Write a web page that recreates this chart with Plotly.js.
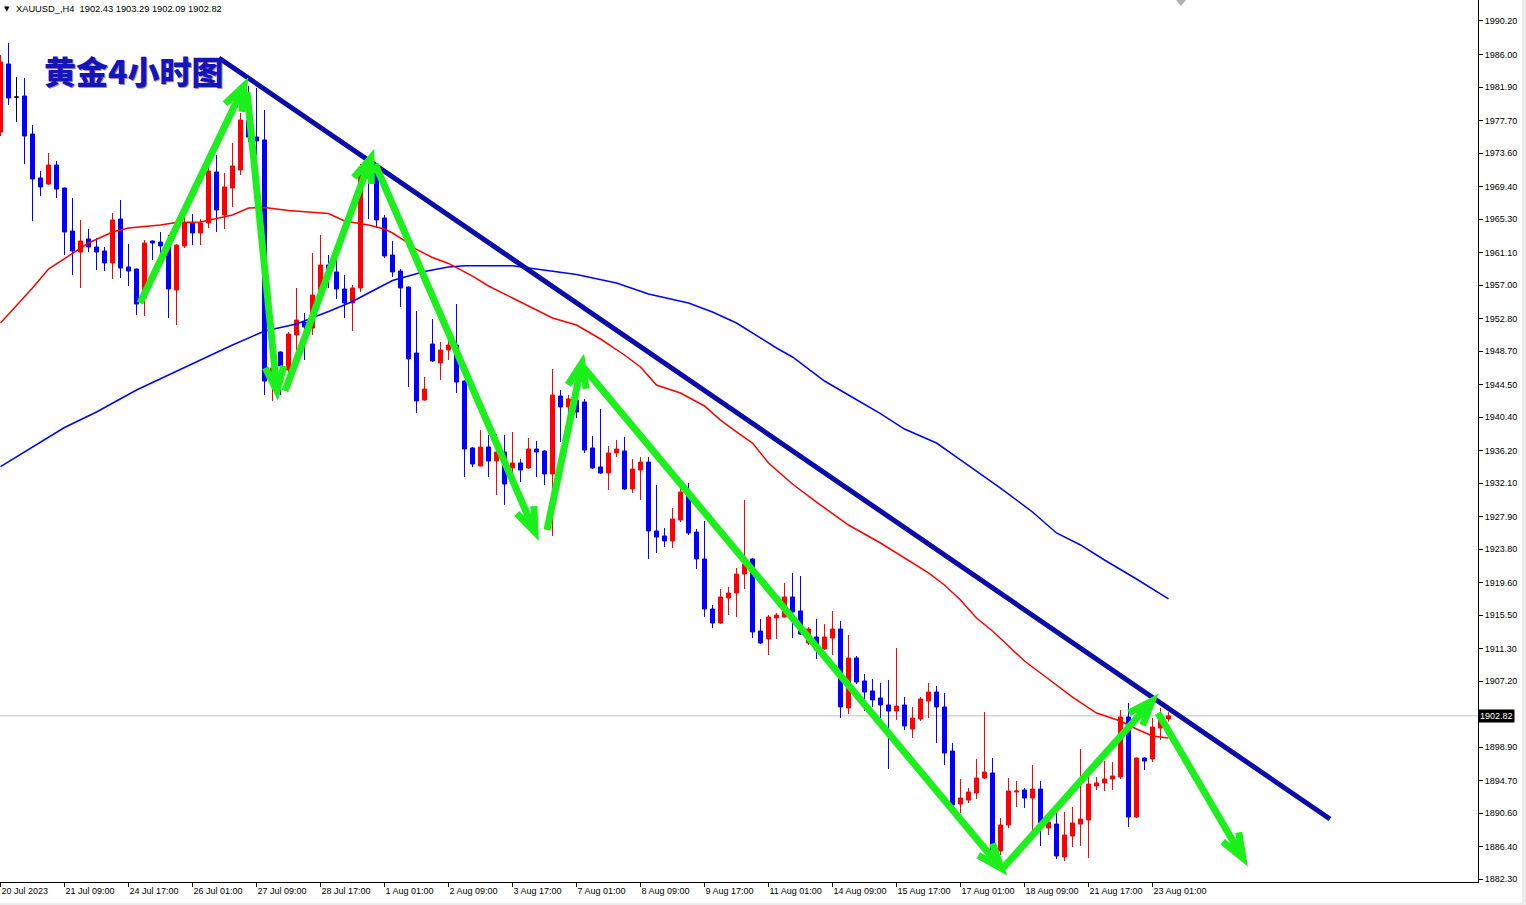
<!DOCTYPE html>
<html>
<head>
<meta charset="utf-8">
<script src="https://cdn.plot.ly/plotly-3.0.1.min.js"></script>
<style>
html,body{margin:0;padding:0;background:#fff;overflow:hidden;}
#chart{width:1526px;height:905px;}
</style>
</head>
<body>
<div id="chart"></div>
<script>
// ---- XAUUSD H4 candles (bar index 0..146) ----
const openP = [1976.24,1984.79,1980.64,1980.77,1975.99,1970.46,1969.70,1972.09,1969.20,1963.79,
1961.15,1962.79,1961.78,1961.28,1959.77,1965.30,1959.27,1959.01,1955.37,1962.54,
1962.41,1961.91,1956.37,1961.91,1964.80,1963.54,1964.80,1971.21,1965.80,1969.20,
1971.46,1977.70,1975.61,1975.24,1945.06,1948.58,1946.31,1950.71,1952.35,1951.59,
1956.00,1959.52,1958.64,1956.50,1954.74,1956.63,1971.84,1971.09,1965.43,1960.77,
1958.76,1956.75,1948.45,1942.54,1949.58,1947.19,1948.83,1949.46,1944.93,1936.51,
1934.24,1936.63,1934.87,1936.00,1933.99,1934.62,1933.99,1936.38,1936.13,1933.24,
1943.04,1941.66,1942.54,1942.29,1936.51,1934.12,1933.36,1935.88,1936.13,1931.35,
1933.74,1934.74,1926.07,1925.44,1924.81,1927.45,1930.72,1925.94,1922.55,1916.26,
1914.50,1917.64,1918.27,1920.66,1922.55,1913.49,1912.49,1915.13,1915.25,1917.77,
1916.01,1911.98,1912.74,1911.23,1912.61,1913.74,1903.81,1910.10,1907.21,1905.95,
1905.07,1904.19,1903.43,1904.19,1901.17,1902.43,1904.69,1905.82,1903.94,1898.40,
1891.74,1892.24,1893.12,1895.01,1895.64,1885.83,1889.10,1893.25,1893.50,1892.49,
1893.62,1888.72,1889.22,1885.07,1887.71,1889.22,1889.73,1894.00,1894.38,1894.88,
1895.13,1902.68,1890.10,1897.52,1897.40,1901.29,1902.43];
const highP = [1985.92,1987.43,1983.16,1983.03,1977.12,1971.34,1973.60,1972.60,1969.25,1967.94,
1965.18,1964.04,1962.91,1961.78,1966.06,1967.69,1962.16,1959.05,1962.66,1962.60,
1963.67,1963.29,1962.10,1965.55,1965.93,1965.30,1972.47,1973.35,1971.09,1974.86,
1978.63,1982.03,1981.78,1979.01,1947.57,1948.65,1951.09,1956.63,1953.48,1961.03,
1963.29,1960.77,1960.40,1958.26,1957.00,1972.22,1972.47,1971.84,1965.80,1962.54,
1959.01,1956.80,1953.73,1945.43,1952.73,1949.83,1950.21,1954.61,1945.00,1936.63,
1938.77,1938.14,1938.27,1938.14,1938.52,1935.12,1937.76,1937.39,1936.20,1946.44,
1943.80,1943.17,1943.55,1942.67,1938.01,1941.41,1936.76,1937.51,1937.89,1935.12,
1935.37,1935.37,1931.85,1926.44,1928.96,1931.60,1932.10,1926.32,1927.33,1916.76,
1918.77,1919.03,1921.42,1929.97,1922.67,1915.00,1915.50,1915.76,1919.53,1920.79,
1920.41,1913.99,1915.00,1914.37,1916.01,1914.75,1912.99,1910.35,1908.09,1907.46,
1906.95,1907.33,1911.35,1905.19,1903.94,1905.19,1906.95,1906.58,1905.70,1899.41,
1894.88,1893.75,1897.40,1903.31,1897.52,1889.98,1895.01,1894.63,1893.75,1896.64,
1894.63,1890.10,1890.61,1890.73,1891.36,1898.65,1895.13,1895.13,1897.14,1897.02,
1903.56,1904.44,1897.60,1897.60,1902.55,1903.81,1903.29];
const lowP = [1975.74,1979.64,1977.50,1972.22,1965.05,1968.19,1969.60,1967.94,1960.77,1958.26,
1956.63,1961.15,1958.89,1958.76,1957.76,1957.88,1956.88,1953.23,1953.10,1960.15,
1960.15,1952.85,1951.97,1961.65,1962.03,1962.03,1964.17,1963.67,1964.04,1966.81,
1970.83,1974.98,1973.35,1943.17,1942.42,1943.17,1945.68,1948.83,1947.57,1950.71,
1955.12,1956.63,1955.24,1952.85,1951.22,1956.12,1965.30,1964.17,1960.40,1958.01,
1954.24,1944.18,1940.91,1942.45,1947.32,1945.06,1947.57,1943.42,1932.86,1934.12,
1934.20,1932.86,1930.59,1929.34,1933.36,1932.23,1933.90,1932.86,1931.85,1925.44,
1937.26,1940.40,1940.28,1935.88,1933.86,1933.24,1931.22,1935.37,1931.22,1930.85,
1929.97,1922.55,1923.30,1924.06,1923.93,1927.20,1925.56,1921.29,1915.25,1913.87,
1914.40,1915.50,1915.25,1918.77,1912.61,1911.86,1910.47,1912.49,1915.20,1912.61,
1912.99,1911.73,1909.97,1911.10,1910.47,1902.55,1903.05,1906.83,1903.43,1903.94,
1902.55,1896.14,1902.30,1901.04,1900.04,1902.18,1902.55,1899.41,1896.64,1890.98,
1890.61,1891.86,1892.37,1894.90,1885.58,1885.32,1888.72,1891.36,1891.24,1888.09,
1886.46,1887.84,1884.82,1884.57,1886.33,1886.46,1884.95,1893.50,1893.37,1893.50,
1894.88,1888.85,1889.98,1896.01,1897.02,1899.79,1902.09];
const closeP = [1985.04,1980.52,1980.64,1975.74,1970.33,1969.33,1972.09,1969.07,1963.67,1961.28,
1962.54,1961.78,1961.15,1959.77,1965.18,1959.14,1958.76,1954.61,1962.28,1962.28,
1961.91,1956.50,1962.03,1964.80,1963.54,1964.80,1971.34,1966.43,1969.33,1971.97,
1977.75,1975.61,1975.11,1944.93,1946.57,1946.82,1950.84,1952.60,1951.72,1955.74,
1959.52,1958.64,1956.50,1954.74,1956.63,1971.84,1970.46,1965.18,1960.65,1958.64,
1956.63,1947.70,1942.42,1943.92,1947.45,1948.83,1949.46,1944.80,1936.38,1934.49,
1936.63,1934.87,1936.00,1931.98,1934.62,1933.74,1936.38,1936.00,1933.24,1943.17,
1941.66,1942.67,1941.03,1936.25,1933.99,1933.36,1935.88,1936.38,1931.35,1933.86,
1934.74,1926.07,1925.31,1924.81,1927.58,1930.97,1925.82,1922.55,1916.26,1914.50,
1917.77,1918.27,1920.66,1921.92,1913.37,1911.98,1915.25,1915.50,1917.77,1915.88,
1913.11,1913.74,1911.10,1912.74,1913.74,1903.94,1910.10,1907.08,1905.82,1904.82,
1904.19,1903.43,1904.06,1901.55,1902.55,1904.94,1905.82,1903.94,1898.15,1891.61,
1892.49,1893.25,1895.01,1895.76,1885.95,1889.10,1893.37,1893.37,1892.49,1893.62,
1889.35,1889.47,1885.20,1887.84,1889.35,1889.85,1894.25,1894.38,1894.88,1895.26,
1902.68,1890.10,1897.52,1897.14,1901.42,1902.30,1902.82];

// ---- moving averages (bar index, price) ----
const maRedIdx = [0,4,6,9,11,14,16,18,20,22,25,27,29,31,33,36,38,41,43,46,48,49,51,52,54,56,59,61,64,69,72,75,78,80,82,85,88,90,92,94,96,99,102,106,110,113,116,118,120,122,124,126,128,131,134,137,140,142,144,146];
const maRed = [1952.22,1956.63,1959.01,1961.03,1962.28,1963.67,1964.17,1964.36,1964.55,1964.86,1964.92,1965.36,1965.80,1966.68,1966.75,1966.37,1966.22,1965.99,1965.05,1964.55,1964.04,1963.54,1962.28,1961.47,1960.46,1959.71,1958.13,1956.88,1955.37,1952.85,1951.97,1950.21,1948.20,1946.69,1944.43,1943.42,1941.79,1940.02,1938.52,1937.13,1934.62,1931.98,1929.71,1926.82,1924.56,1922.67,1920.79,1919.28,1917.39,1915.13,1913.49,1911.60,1909.72,1907.46,1905.19,1903.18,1902.18,1901.17,1900.29,1900.04];
const maBlueIdx = [0,4,8,12,17,21,25,29,33,37,41,44,46,49,51,53,56,58,64,68,72,77,81,86,89,92,94,97,99,103,106,110,113,117,120,123,125,129,132,135,138,142,146];
const maBlue = [1934.15,1936.63,1939.08,1941.03,1943.80,1945.68,1947.57,1949.46,1951.22,1952.10,1953.67,1954.93,1956.00,1957.57,1958.13,1958.70,1959.27,1959.43,1959.43,1958.89,1958.32,1957.25,1955.87,1954.74,1953.61,1952.22,1950.97,1949.08,1947.95,1944.93,1943.17,1940.84,1938.89,1937.13,1935.00,1932.86,1931.47,1928.46,1925.82,1924.31,1922.42,1920.03,1917.52];

// ---- axis labels ----
const xTickIdx = [0,8,16,24,32,40,48,56,64,72,80,88,96,104,112,120,128,136,144];
const xTickText = ["20 Jul 2023","21 Jul 09:00","24 Jul 17:00","26 Jul 01:00","27 Jul 09:00","28 Jul 17:00","1 Aug 01:00","2 Aug 09:00","3 Aug 17:00","7 Aug 01:00","8 Aug 09:00","9 Aug 17:00","11 Aug 01:00","14 Aug 09:00","15 Aug 17:00","17 Aug 01:00","18 Aug 09:00","21 Aug 17:00","23 Aug 01:00"];
const yTickVals = [1990.20,1986.00,1981.90,1977.70,1973.60,1969.40,1965.30,1961.10,1957.00,1952.80,1948.70,1944.50,1940.40,1936.20,1932.10,1927.90,1923.80,1919.60,1915.50,1911.30,1907.20,1898.90,1894.70,1890.60,1886.40,1882.30];

// ---- drawn objects (bar index, price) ----
const trendLine = {x0:27.31, y0:1985.55, x1:166.19, y1:1889.85};
const arrows = [
  [17.44,1954.74, 30.44,1982.03],
  [30.81,1981.27, 34.56,1943.67],
  [35.56,1943.67, 46.31,1972.97],
  [46.81,1972.22, 66.81,1925.94],
  [68.31,1926.19, 72.69,1947.19],
  [72.94,1946.56, 125.06,1883.69],
  [125.31,1883.69, 143.94,1904.69],
  [144.69,1903.18, 155.31,1884.95]
];

// ---- layout geometry ----
const W = 1526, H = 905;
const M = {l:0, r:48, t:0, b:23};
const plotW = W - M.l - M.r, plotH = H - M.t - M.b;
const xRange = [-0.0625, 184.69];
const yRange = [1881.93, 1992.84];
const kx = plotW / (xRange[1]-xRange[0]);
const ky = plotH / (yRange[1]-yRange[0]);

const idx = openP.map((_, i) => i);
const isDoji = idx.map(i => openP[i] === closeP[i]);
const pick = (arr, want) => idx.filter(i => isDoji[i] === want).map(i => arr[i]);

const traces = [
  {type:'scatter', mode:'lines', x:maBlueIdx, y:maBlue, line:{color:'#0000ff', width:1.5}, hoverinfo:'skip', showlegend:false},
  {type:'scatter', mode:'lines', x:maRedIdx, y:maRed, line:{color:'#ff0000', width:1.5}, hoverinfo:'skip', showlegend:false},
  {type:'candlestick', x:pick(idx,false), open:pick(openP,false), high:pick(highP,false), low:pick(lowP,false), close:pick(closeP,false),
   increasing:{line:{color:'#ff0000', width:1}, fillcolor:'#ff0000'},
   decreasing:{line:{color:'#0000ff', width:1}, fillcolor:'#0000ff'},
   whiskerwidth:0, showlegend:false, hoverinfo:'skip'},
  {type:'candlestick', x:pick(idx,true), open:pick(openP,true), high:pick(highP,true), low:pick(lowP,true), close:pick(closeP,true),
   increasing:{line:{color:'#000000', width:1}, fillcolor:'#000000'},
   decreasing:{line:{color:'#000000', width:1}, fillcolor:'#000000'},
   whiskerwidth:0, showlegend:false, hoverinfo:'skip'}
];

function arrowPath(a){
  const [x0,y0,x1,y1] = a;
  const dx = (x1-x0)*kx, dy = -(y1-y0)*ky;
  const len = Math.hypot(dx,dy);
  const ux = dx/len, uy = dy/len;
  const L = 26, ang = 21*Math.PI/180;
  const barbs = [ang,-ang].map(t => {
    const bx = -ux*Math.cos(t) + uy*Math.sin(t);
    const by = -ux*Math.sin(t) - uy*Math.cos(t);
    return [x1 + L*bx/kx, y1 - L*by/ky];
  });
  return `M ${x0},${y0} L ${x1},${y1} M ${barbs[0][0]},${barbs[0][1]} L ${x1},${y1} L ${barbs[1][0]},${barbs[1][1]}`;
}

const lastClose = closeP[closeP.length-1];
const shapes = [
  {type:'rect', xref:'paper', yref:'paper', x0:1522/plotW, x1:W/plotW, y0:-M.b/plotH, y1:1, fillcolor:'#ececec', line:{width:0}, layer:'below'},
  {type:'rect', xref:'paper', yref:'paper', x0:0, x1:W/plotW, y0:-M.b/plotH, y1:-21/plotH, fillcolor:'#ececec', line:{width:0}, layer:'below'},
  {type:'line', xref:'paper', yref:'y', x0:0, x1:1, y0:lastClose, y1:lastClose, line:{color:'#c0c0c0', width:1}, layer:'below'},
  {type:'line', xref:'x', yref:'y', x0:trendLine.x0, y0:trendLine.y0, x1:trendLine.x1, y1:trendLine.y1, line:{color:'#0c0ca8', width:5}},
  {type:'path', xref:'paper', yref:'paper', path:`M ${1176/plotW},1 L ${1186/plotW},1 L ${1181/plotW},${1-6/plotH} Z`, fillcolor:'#b0b0b0', line:{width:0}}
].concat(arrows.map(a => ({type:'path', xref:'x', yref:'y', path:arrowPath(a), line:{color:'#1cf01c', width:7}})));

const annotations = [
  {xref:'paper', yref:'paper', x:2/plotW, y:1-9/plotH, xanchor:'left', yanchor:'middle', showarrow:false,
   text:'▼', font:{family:'DejaVu Sans', size:7, color:'#000'}},
  {xref:'paper', yref:'paper', x:14/plotW, y:1-9/plotH, xanchor:'left', yanchor:'middle', showarrow:false,
   text:'XAUUSD_,H4  1902.43 1903.29 1902.09 1902.82', font:{family:'Liberation Sans, Arial, sans-serif', size:9.3, color:'#000'}},
  {xref:'paper', yref:'paper', x:42/plotW, y:1-70/plotH, xanchor:'left', yanchor:'middle', showarrow:false,
   text:'黄金4小时图', font:{family:'Noto Sans CJK SC', size:32, color:'#1414b8', weight:900, shadow:'1px 1px 0px rgba(110,40,150,0.55)'}},
  {xref:'paper', yref:'y', x:1, xshift:0, xanchor:'left', y:lastClose, yanchor:'middle', showarrow:false,
   text:lastClose.toFixed(2), bgcolor:'#000000', borderpad:1, font:{family:'Liberation Sans, Arial, sans-serif', size:9, color:'#ffffff'}}
];

const layout = {
  width:W, height:H, margin:M,
  paper_bgcolor:'#ffffff', plot_bgcolor:'#ffffff',
  showlegend:false, hovermode:false, dragmode:false,
  boxgap:0.5, boxgroupgap:0,
  xaxis:{range:xRange, type:'linear', rangeslider:{visible:false}, showgrid:false, zeroline:false,
    tickmode:'array', tickvals:xTickIdx, ticktext:xTickText, ticks:'outside', ticklen:4, tickcolor:'#000',
    ticklabelposition:'outside right', showline:true, linecolor:'#000', linewidth:1, mirror:true,
    tickfont:{family:'Liberation Sans, Arial, sans-serif', size:9, color:'#000'}, automargin:false, fixedrange:true},
  yaxis:{range:yRange, side:'right', showgrid:false, zeroline:false,
    tickmode:'array', tickvals:yTickVals, ticktext:yTickVals.map(v => v.toFixed(2)), ticks:'outside', ticklen:4, tickcolor:'#000',
    showline:true, linecolor:'#000', linewidth:1, mirror:true,
    tickfont:{family:'Liberation Sans, Arial, sans-serif', size:9, color:'#000'}, automargin:false, fixedrange:true},
  shapes:shapes, annotations:annotations
};

Plotly.newPlot('chart', traces, layout, {displayModeBar:false, staticPlot:true});
</script>
</body>
</html>
